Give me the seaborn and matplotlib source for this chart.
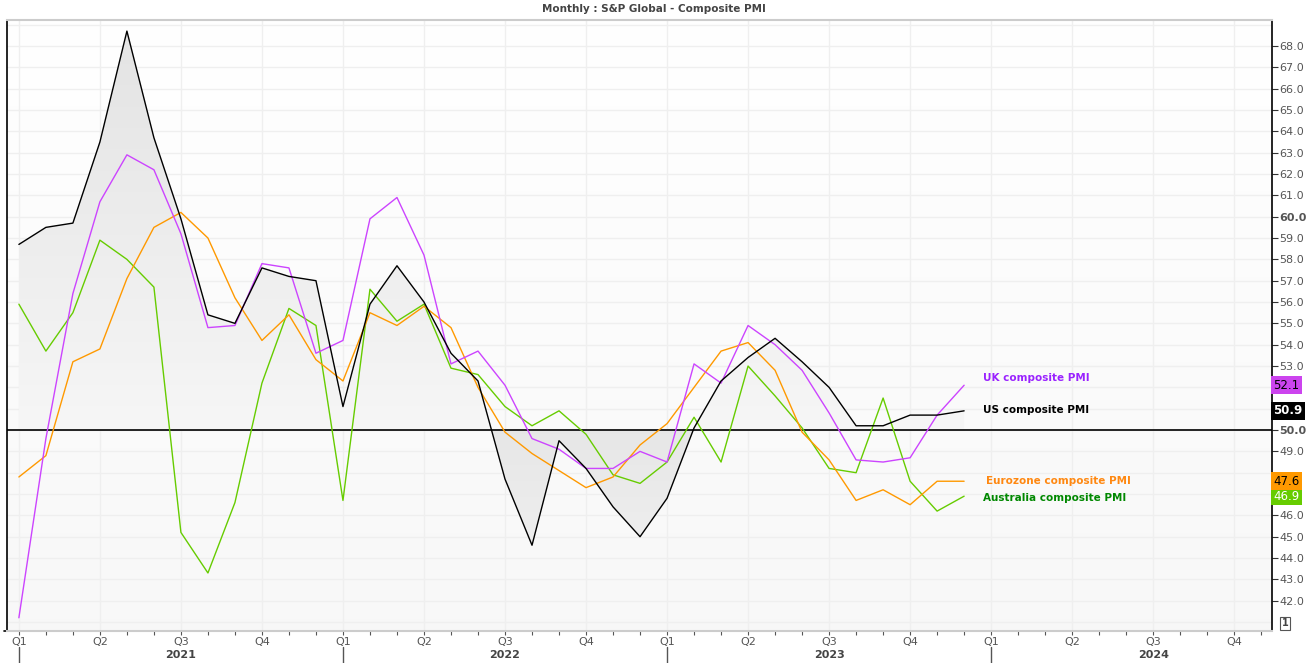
import matplotlib.pyplot as plt
import matplotlib.transforms as mtransforms
import seaborn as sns
import numpy as np
import pandas as pd

# monthly composite PMI, Jan 2021 .. Dec 2023
months = pd.date_range("2021-01-01", "2023-12-01", freq="MS")
us_pmi = [58.7, 59.5, 59.7, 63.5, 68.7, 63.7, 59.9, 55.4, 55.0, 57.6, 57.2, 57.0,
          51.1, 55.9, 57.7, 56.0, 53.6, 52.3, 47.7, 44.6, 49.5, 48.2, 46.4, 45.0,
          46.8, 50.1, 52.3, 53.4, 54.3, 53.2, 52.0, 50.2, 50.2, 50.7, 50.7, 50.9]
uk_pmi = [41.2, 49.6, 56.4, 60.7, 62.9, 62.2, 59.2, 54.8, 54.9, 57.8, 57.6, 53.6,
          54.2, 59.9, 60.9, 58.2, 53.1, 53.7, 52.1, 49.6, 49.1, 48.2, 48.2, 49.0,
          48.5, 53.1, 52.2, 54.9, 54.0, 52.8, 50.8, 48.6, 48.5, 48.7, 50.7, 52.1]
ez_pmi = [47.8, 48.8, 53.2, 53.8, 57.1, 59.5, 60.2, 59.0, 56.2, 54.2, 55.4, 53.3,
          52.3, 55.5, 54.9, 55.8, 54.8, 52.0, 49.9, 48.9, 48.1, 47.3, 47.8, 49.3,
          50.3, 52.0, 53.7, 54.1, 52.8, 49.9, 48.6, 46.7, 47.2, 46.5, 47.6, 47.6]
au_pmi = [55.9, 53.7, 55.5, 58.9, 58.0, 56.7, 45.2, 43.3, 46.6, 52.2, 55.7, 54.9,
          46.7, 56.6, 55.1, 55.9, 52.9, 52.6, 51.1, 50.2, 50.9, 49.8, 47.9, 47.5,
          48.5, 50.6, 48.5, 53.0, 51.6, 50.1, 48.2, 48.0, 51.5, 47.6, 46.2, 46.9]

series_names = ["Australia composite PMI", "Eurozone composite PMI",
                "UK composite PMI", "US composite PMI"]
line_colors = ["#66cc00", "#ff9900", "#cc44ff", "#000000"]
label_colors = ["#008800", "#ff8811", "#9a22ff", "#000000"]
tag_colors = ["#66cc00", "#ff9900", "#cc44ee", "#000000"]
tag_text = ["white", "black", "black", "white"]

quarter_labels = ["Q1", "Q2", "Q3", "Q4"] * 4
years = ["2021", "2022", "2023", "2024"]
# axis labels hidden behind the value tags
hidden_ticks = [47, 48, 51, 52]

x = np.arange(len(months))
df = pd.DataFrame({
    "month": np.tile(x, 4),
    "value": au_pmi + ez_pmi + uk_pmi + us_pmi,
    "series": np.repeat(series_names, len(months)),
})

sns.set_style("white")
plt.rcParams["font.family"] = ["DejaVu Sans"]

fig = plt.figure(figsize=(13.07, 6.63), dpi=100)
ax = fig.add_axes([7 / 1307, 32 / 663, 1265 / 1307, 611 / 663])
ax.set_xlim(-0.44, 46.4)
ax.set_ylim(40.58, 69.22)
y0, y1 = ax.get_ylim()

# faint background gradient
bg = np.linspace(1.0, 0.972, 200)[:, None, None] * np.ones((1, 1, 3))
ax.imshow(bg, extent=[-0.44, 46.4, y0, y1], aspect="auto", zorder=0)

# grid
for v in range(41, 70):
    ax.axhline(v, color="#efefef", lw=1, zorder=1)
for q in range(0, 47, 3):
    ax.axvline(q, color="#efefef", lw=1, zorder=1)

# gradient fill between US line and 50
poly = ax.fill_between(x, us_pmi, 50, facecolor="none", edgecolor="none")
clip = poly.get_paths()[0]
up = np.linspace(0.89, 0.965, 200)[:, None, None] * np.ones((1, 1, 3))
dn = np.linspace(0.905, 0.955, 200)[:, None, None] * np.ones((1, 1, 3))
for img, ext in [(up, [0, 35, 50, y1]), (dn, [0, 35, y0, 50])]:
    im = ax.imshow(img, extent=ext, aspect="auto", zorder=2, origin="upper")
    im.set_clip_path(clip, transform=ax.transData)

ax.axhline(50, color="black", lw=1.2, zorder=3)

sns.lineplot(data=df, x="month", y="value", hue="series", palette=line_colors,
             hue_order=series_names, legend=False, linewidth=1.0, ax=ax, zorder=4)
ax.set_xlim(-0.44, 46.4)
ax.set_ylim(y0, y1)
ax.set_xlabel("")
ax.set_ylabel("")

# series labels next to last points
last = [au_pmi[-1], ez_pmi[-1], uk_pmi[-1], us_pmi[-1]]
label_y = [46.8, 47.6, 52.45, 50.95]
label_x = [35.7, 35.8, 35.7, 35.7]
for name, c, lx, ly in zip(series_names, label_colors, label_x, label_y):
    ax.text(lx, ly, name, color=c, fontsize=7.5, fontweight="bold",
            ha="left", va="center", zorder=5)

# value tags on the right axis
tr = mtransforms.blended_transform_factory(ax.transAxes, ax.transData)
for v, fc, tc in zip(last, tag_colors, tag_text):
    ax.text(1.0012, v, f"{v:.1f}", transform=tr, fontsize=8.5, color=tc,
            fontweight="bold" if fc == "#000000" else "normal",
            ha="left", va="center", zorder=10, clip_on=False,
            bbox=dict(boxstyle="square,pad=0.2", fc=fc, ec="none"))

# right axis
ax.yaxis.tick_right()
ax.set_yticks(range(42, 69))
ax.set_yticklabels(["" if v in hidden_ticks else f"{v:.1f}" for v in range(42, 69)])
for lab in ax.get_yticklabels():
    if lab.get_text() in ("50.0", "60.0"):
        lab.set_fontweight("bold")
ax.tick_params(axis="y", right=True, length=4, width=0.8, color="#333333",
               labelsize=8, labelcolor="#555555", pad=1)

# bottom axis: quarters and months
ax.set_xticks(range(0, 46, 3))
ax.set_xticklabels(quarter_labels)
ax.set_xticks(range(0, 47), minor=True)
ax.tick_params(axis="x", which="both", bottom=True, length=3, width=0.8,
               color="#555555", labelsize=8, labelcolor="#555555", pad=1)
trx = mtransforms.blended_transform_factory(ax.transData, ax.transAxes)
for i, yr in enumerate(years):
    ax.text(6 + 12 * i, -0.040, yr, transform=trx, ha="center", va="center",
            fontsize=8, fontweight="bold", color="#444444")
    ax.plot([12 * i, 12 * i], [-0.027, -0.06], transform=trx, color="#555555",
            lw=1, clip_on=False)

for s in ["top", "bottom"]:
    ax.spines[s].set_color("#cccccc")
    ax.spines[s].set_linewidth(1.5)
for s in ["left", "right"]:
    ax.spines[s].set_color("black")
    ax.spines[s].set_linewidth(1.2)
    ax.spines[s].set_visible(True)

# black corner marks
ax.plot([0, 0.016], [1, 1], transform=ax.transAxes, color="black", lw=1.2, clip_on=False)
ax.plot([-0.002, 0.01], [0, 0], transform=ax.transAxes, color="black", lw=1.2, clip_on=False)
ax.plot([0.983, 1.0], [0, 0], transform=ax.transAxes, color="black", lw=1.2, clip_on=False)
ax.text(1.0075, 40.95, "1", transform=tr, fontsize=7, fontweight="bold", color="#444444",
        ha="left", va="center", clip_on=False,
        bbox=dict(boxstyle="square,pad=0.15", fc="white", ec="#555555", lw=0.8))

fig.text(0.5, 1 - 9 / 663, "Monthly : S&P Global - Composite PMI", ha="center",
         va="center", fontsize=7.5, fontweight="bold", color="#444444")

plt.savefig("out.png", dpi=100)
